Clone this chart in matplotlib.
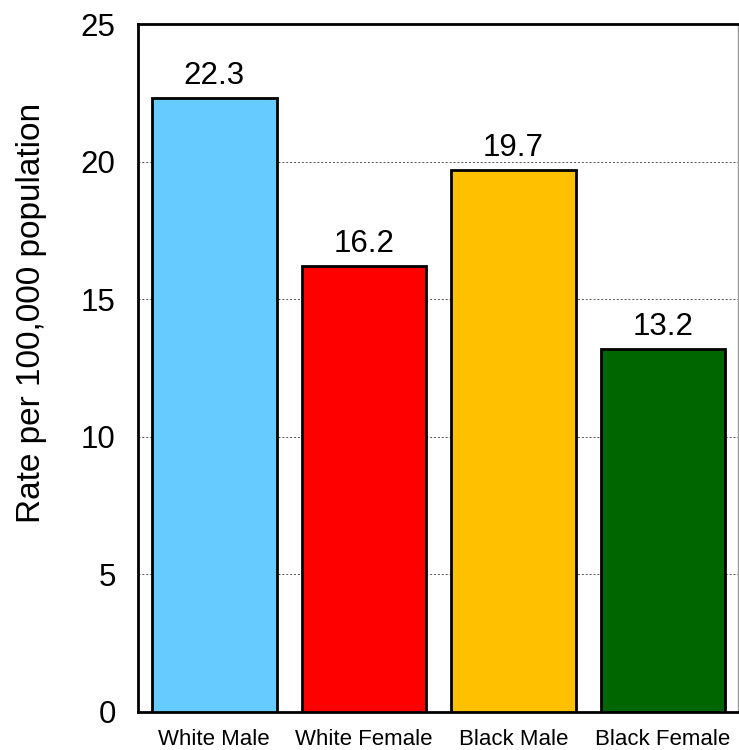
import matplotlib
matplotlib.use("Agg")
from matplotlib import pyplot as plt

groups = ["White Male", "White Female", "Black Male", "Black Female"]
rates = [22.3, 16.2, 19.7, 13.2]
colors = ["#66CCFF", "#FF0000", "#FFC000", "#006600"]

plt.rcParams["font.family"] = ["Liberation Sans", "DejaVu Sans"]

fig = plt.figure(figsize=(7.39, 7.5), dpi=100)
ax = fig.add_axes([0.1867, 0.0507, 0.8115, 0.9173])

x = range(len(groups))
bars = ax.bar(x, rates, width=0.833, color=colors, edgecolor="black", linewidth=2, zorder=3)
for b, v in zip(bars, rates):
    ax.text(b.get_x() + b.get_width() / 2, v + 0.25, f"{v:.1f}",
            ha="center", va="bottom", fontsize=22.5)

ax.set_xlim(-0.51, 3.5)
ax.set_ylim(0, 25)
ax.set_yticks([0, 5, 10, 15, 20, 25])
ax.set_xticks(list(x))
ax.set_xticklabels(groups, fontsize=16)
ax.tick_params(axis="y", labelsize=22.5, length=0, pad=16)
ax.tick_params(axis="x", length=0, pad=12)
ax.yaxis.grid(True, linestyle=(0, (2, 2)), color="#555555", linewidth=0.7, zorder=0)
ax.set_ylabel("Rate per 100,000 population", fontsize=24)
ax.yaxis.set_label_coords(-0.152, 0.58)

for s in ["left", "top", "bottom"]:
    ax.spines[s].set_linewidth(2)
ax.spines["right"].set_color("#999999")
ax.spines["right"].set_linewidth(1)

fig.savefig("out.png", dpi=100)
